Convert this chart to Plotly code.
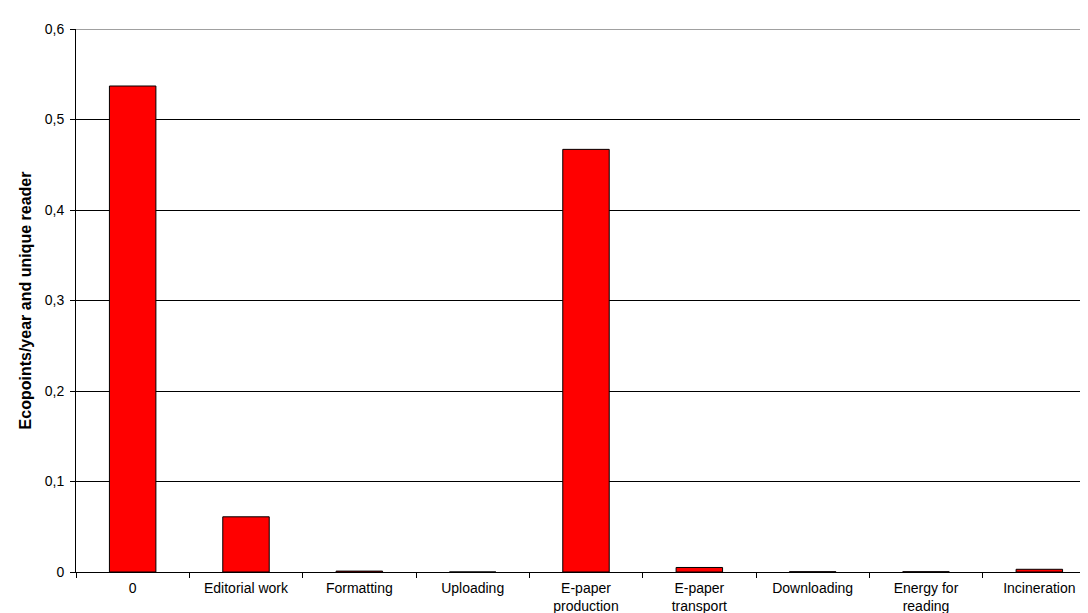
import plotly.graph_objects as go

categories = ["0", "Editorial work", "Formatting", "Uploading", "E-paper<br>production",
              "E-paper<br>transport", "Downloading", "Energy for<br>reading", "Incineration"]
values = [0.537, 0.061, 0.001, 0.0, 0.467, 0.005, 0.0003, 0.0003, 0.003]
y_ticks = [0, 0.1, 0.2, 0.3, 0.4, 0.5, 0.6]
y_labels = ["0", "0,1", "0,2", "0,3", "0,4", "0,5", "0,6"]

fig = go.Figure()
fig.add_trace(go.Bar(
    x=categories, y=values,
    marker=dict(color="#FF0000", line=dict(color="black", width=1)),
))

fig.update_layout(
    width=1088, height=613,
    margin=dict(l=68, r=0, t=21, b=49),
    plot_bgcolor="white", paper_bgcolor="white",
    font=dict(family="Liberation Sans, Arial", size=13, color="black"),
    bargap=0.59,
    showlegend=False,
)
fig.update_xaxes(
    automargin=False,
    showline=True, linecolor="black", linewidth=1,
    ticks="outside", ticklen=5, tickcolor="black", tickson="boundaries",
    ticklabelstandoff=3,
    showgrid=False, tickfont=dict(size=14),
)
fig.update_yaxes(
    automargin=False,
    range=[0, 0.6], tickvals=y_ticks, ticktext=y_labels,
    showline=True, linecolor="black", linewidth=1,
    ticks="outside", ticklen=5, tickcolor="black",
    ticklabelstandoff=3,
    showgrid=True, gridcolor="black", gridwidth=1, zeroline=False,
    tickfont=dict(size=14),
    title=dict(text="<b>Ecopoints/year and unique reader</b>", font=dict(size=16), standoff=9),
)
# grey plot-area border at the top
fig.add_shape(type="line", xref="paper", yref="y", x0=0, x1=1, y0=0.6, y1=0.6,
              line=dict(color="#808080", width=1.5))

fig.write_html("out.html")
